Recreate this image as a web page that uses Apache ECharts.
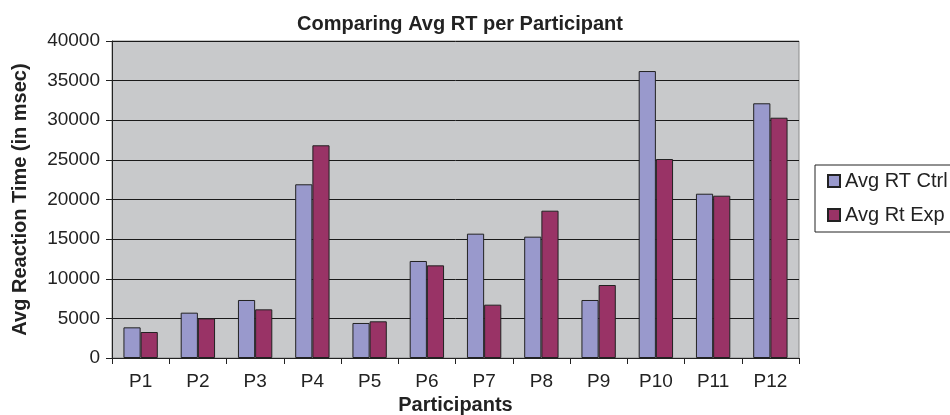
<!DOCTYPE html>
<html>
<head>
<meta charset="utf-8">
<script src="https://cdn.jsdelivr.net/npm/echarts@6/dist/echarts.min.js"></script>
<style>
  html, body { margin: 0; padding: 0; background: #fff; }
  #chart { width: 950px; height: 415px; }
</style>
</head>
<body>
<div id="chart"></div>
<script>
const participants = ["P1", "P2", "P3", "P4", "P5", "P6", "P7", "P8", "P9", "P10", "P11", "P12"];
const avgRtCtrl = [3870, 5720, 7320, 21920, 4420, 12240, 15690, 15310, 7320, 36210, 20730, 32140];
const avgRtExp = [3280, 5000, 6140, 26840, 4630, 11690, 6730, 18590, 9210, 25110, 20480, 30320];

const font = "Liberation Sans, Arial, sans-serif";
const chart = echarts.init(document.getElementById("chart"));

chart.setOption({
  animation: false,
  textStyle: { fontFamily: font },
  title: {
    text: "Comparing Avg RT per Participant",
    left: 455,
    textAlign: "center",
    top: 9,
    textStyle: { fontSize: 20, fontWeight: "bold", color: "#222", fontFamily: font }
  },
  legend: {
    data: ["Avg RT Ctrl", "Avg Rt Exp"],
    orient: "vertical",
    left: 815,
    top: 165,
    padding: [6, 30, 7, 12],
    itemGap: 14,
    itemWidth: 12,
    itemHeight: 12,
    icon: "rect",
    borderColor: "#222",
    borderWidth: 1,
    textStyle: { fontSize: 20, color: "#222", fontFamily: font }
  },
  grid: {
    left: 112,
    top: 41,
    width: 687,
    height: 317,
    outerBoundsMode: "none",
    containLabel: false,
    show: true,
    backgroundColor: "#c8c9cb",
    borderColor: "#8a8a8a",
    borderWidth: 1
  },
  xAxis: {
    type: "category",
    data: participants,
    name: "Participants",
    nameLocation: "middle",
    nameGap: 37,
    nameTextStyle: { fontSize: 20, fontWeight: "bold", color: "#222", fontFamily: font },
    axisLine: { lineStyle: { color: "#222", width: 1 } },
    axisTick: { show: true, length: 6, lineStyle: { color: "#222" } },
    axisLabel: { fontSize: 19, color: "#222", margin: 14, fontFamily: font }
  },
  yAxis: {
    type: "value",
    min: 0,
    max: 40000,
    interval: 5000,
    name: "Avg Reaction Time (in msec)",
    nameLocation: "middle",
    nameGap: 82,
    nameTextStyle: { fontSize: 20, fontWeight: "bold", color: "#222", fontFamily: font },
    axisLine: { show: true, lineStyle: { color: "#222", width: 1 } },
    axisTick: { show: true, length: 6, lineStyle: { color: "#222" } },
    axisLabel: {
      fontSize: 19,
      color: "#222",
      margin: 12,
      fontFamily: font,
      formatter: function (v) { return String(v); }
    },
    splitLine: { lineStyle: { color: "#1a1a1a", width: 1 } }
  },
  series: [
    {
      name: "Avg RT Ctrl",
      type: "bar",
      data: avgRtCtrl,
      barGap: "0%",
      barCategoryGap: "40%",
      itemStyle: { color: "#9999cc", borderColor: "#222", borderWidth: 1 }
    },
    {
      name: "Avg Rt Exp",
      type: "bar",
      data: avgRtExp,
      itemStyle: { color: "#993366", borderColor: "#222", borderWidth: 1 }
    }
  ]
});
</script>
</body>
</html>
